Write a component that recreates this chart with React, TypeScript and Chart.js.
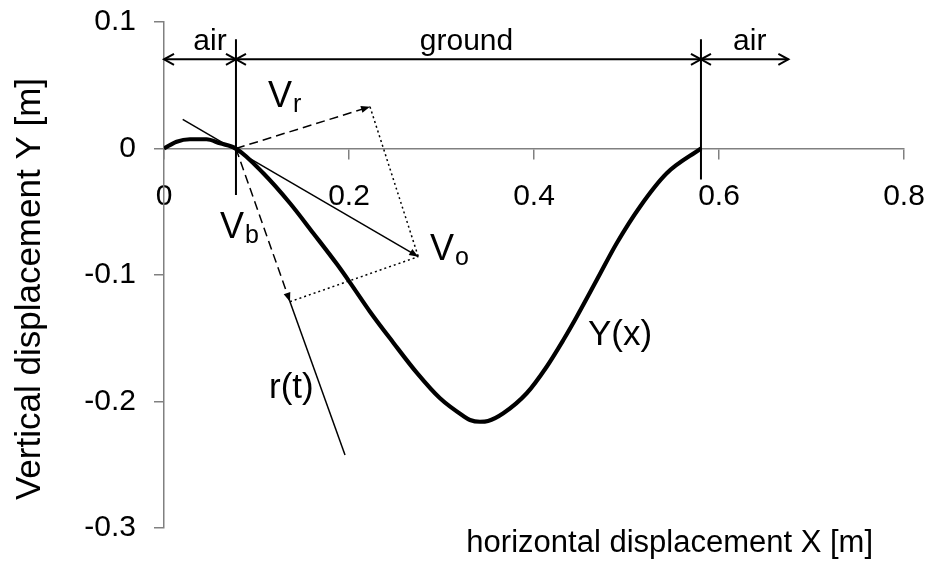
import React, { useEffect, useRef } from "react";
import { Chart, registerables } from "chart.js";

Chart.register(...registerables);

const FONT = '"Liberation Sans", Arial, Helvetica, sans-serif';

// Trajectory Y(x) of the foot: short flight, ground contact, then flight again
const pathX = [0, 0.0137, 0.028, 0.046, 0.0605, 0.0778, 0.1074, 0.1362, 0.1614, 0.1867, 0.2011, 0.2227, 0.2479, 0.2732, 0.2984, 0.3236, 0.3308, 0.3416, 0.3503, 0.3668, 0.3921, 0.4137, 0.4317, 0.4462, 0.4678, 0.4894, 0.5146, 0.5435, 0.5805];
const pathY = [0, 0.0054, 0.0073, 0.0073, 0.0041, 0, -0.0196, -0.0433, -0.067, -0.0912, -0.106, -0.129, -0.1535, -0.1772, -0.1975, -0.2115, -0.2146, -0.216, -0.2154, -0.2093, -0.1935, -0.1725, -0.1514, -0.133, -0.104, -0.0749, -0.046, -0.0196, 0];

const xTicks = [0, 0.2, 0.4, 0.6, 0.8];
const yTicks = [0.1, 0, -0.1, -0.2, -0.3];

// Phase boundaries (touchdown / lift-off) and the dimension lines above them
const boundaryX = [0.0778, 0.5805];
const boundaryTop = [0.0863, 0.0863];
const boundaryBottom = [-0.0368, -0.0245];
const phaseY = 0.0705;
const phaseStart = [0, 0.0778, 0.5805];
const phaseEnd = [0.0778, 0.5805, 0.675];
const phaseLabels = ["air", "ground", "air"];
const phaseLabelX = [0.0497, 0.327, 0.6332];
const phaseLabelY = 0.0779;

// Velocity decomposition at touchdown
const contact = { x: 0.0778, y: 0 };
const tangentStart = { x: 0.0202, y: 0.0231 };
const vOTip = { x: 0.2749, y: -0.0855 };
const vRTip = { x: 0.2227, y: 0.033 };
const vBTip = { x: 0.1362, y: -0.1211 };
const rayEnd = { x: 0.1957, y: -0.2423 };

// Text labels: main letter, subscript, anchor (left, baseline) in data units
const vectorLabels = [
  { main: "V", sub: "r", x: 0.1124, y: 0.0328 },
  { main: "V", sub: "b", x: 0.0605, y: -0.0708 },
  { main: "V", sub: "o", x: 0.2876, y: -0.0881 },
];
const curveLabels = [
  { text: "Y(x)", x: 0.4584, y: -0.1553 },
  { text: "r(t)", x: 0.1135, y: -0.1972 },
];

const xTitle = "horizontal displacement X [m]";
const yTitle = "Vertical displacement Y [m]";

const AXIS_GREY = "#808080";

function segment(a: { x: number; y: number }, b: { x: number; y: number }, extra: any = {}) {
  return {
    data: [a, b],
    showLine: true,
    borderColor: "#000",
    borderWidth: 1.5,
    pointRadius: 0,
    ...extra,
  };
}

function openHead(ctx: CanvasRenderingContext2D, tx: number, ty: number, dir: number) {
  // dir: +1 pointing right, -1 pointing left
  ctx.beginPath();
  ctx.moveTo(tx - dir * 10, ty - 5.5);
  ctx.lineTo(tx, ty);
  ctx.lineTo(tx - dir * 10, ty + 5.5);
  ctx.stroke();
}

function filledHead(ctx: CanvasRenderingContext2D, fx: number, fy: number, tx: number, ty: number) {
  const a = Math.atan2(ty - fy, tx - fx);
  const len = 9;
  const hw = 3.5;
  const bx = tx - len * Math.cos(a);
  const by = ty - len * Math.sin(a);
  ctx.beginPath();
  ctx.moveTo(tx, ty);
  ctx.lineTo(bx + hw * Math.sin(a), by - hw * Math.cos(a));
  ctx.lineTo(bx - hw * Math.sin(a), by + hw * Math.cos(a));
  ctx.closePath();
  ctx.fill();
}

const annotate = {
  id: "annotate",
  afterDatasetsDraw(chart: any) {
    const { ctx, scales, chartArea } = chart;
    const px = (v: number) => scales.x.getPixelForValue(v);
    const py = (v: number) => scales.y.getPixelForValue(v);
    ctx.save();
    ctx.strokeStyle = "#000";
    ctx.fillStyle = "#000";

    // open arrowheads on the phase dimension lines
    ctx.lineWidth = 2;
    for (let i = 0; i < phaseStart.length; i++) {
      openHead(ctx, px(phaseStart[i]), py(phaseY), -1);
      openHead(ctx, px(phaseEnd[i]), py(phaseY), 1);
    }

    // filled arrowheads on the velocity vectors
    const c = { x: px(contact.x), y: py(contact.y) };
    for (const tip of [vOTip, vRTip, vBTip]) {
      filledHead(ctx, c.x, c.y, px(tip.x), py(tip.y));
    }

    // phase names
    ctx.font = `30px ${FONT}`;
    ctx.textAlign = "center";
    ctx.textBaseline = "alphabetic";
    phaseLabels.forEach((t, i) => ctx.fillText(t, px(phaseLabelX[i]), py(phaseLabelY)));

    // vector names with subscripts
    ctx.textAlign = "left";
    for (const l of vectorLabels) {
      ctx.font = `36px ${FONT}`;
      const x0 = px(l.x);
      const y0 = py(l.y);
      ctx.fillText(l.main, x0, y0);
      const w = ctx.measureText(l.main).width;
      ctx.font = `25px ${FONT}`;
      ctx.fillText(l.sub, x0 + w + 1, y0 + 5);
    }

    // curve names
    ctx.font = `35px ${FONT}`;
    for (const l of curveLabels) ctx.fillText(l.text, px(l.x), py(l.y));

    // axis titles
    ctx.font = `31px ${FONT}`;
    ctx.textAlign = "right";
    ctx.fillText(xTitle, chartArea.right - 31, chartArea.bottom + 24);

    ctx.font = `35px ${FONT}`;
    ctx.translate(chartArea.left - 124, (chartArea.top + chartArea.bottom) / 2 + 14);
    ctx.rotate(-Math.PI / 2);
    ctx.textAlign = "center";
    ctx.fillText(yTitle, 0, 0);
    ctx.restore();
  },
};

export default function App() {
  const ref = useRef<HTMLCanvasElement>(null);

  useEffect(() => {
    const canvas = ref.current;
    if (!canvas) return;

    const datasets: any[] = [
      // trajectory
      {
        data: pathX.map((x, i) => ({ x, y: pathY[i] })),
        showLine: true,
        borderColor: "#000",
        borderWidth: 4.2,
        pointRadius: 0,
        cubicInterpolationMode: "monotone",
      },
      // touchdown / lift-off markers
      ...boundaryX.map((bx, i) =>
        segment({ x: bx, y: boundaryTop[i] }, { x: bx, y: boundaryBottom[i] }, { borderWidth: 2 })
      ),
      // phase dimension lines
      ...phaseStart.map((s, i) =>
        segment({ x: s, y: phaseY }, { x: phaseEnd[i], y: phaseY }, { borderWidth: 2 })
      ),
      // tangent through contact point up to V_o
      segment(tangentStart, vOTip),
      // components
      segment(contact, vRTip, { borderDash: [9, 5] }),
      segment(contact, vBTip, { borderDash: [9, 5] }),
      segment(vRTip, vOTip, { borderDash: [2, 3] }),
      segment(vBTip, vOTip, { borderDash: [2, 3] }),
      // r(t) direction
      segment(vBTip, rayEnd),
    ];

    const chart = new Chart(canvas, {
      type: "scatter",
      data: { datasets },
      plugins: [annotate],
      options: {
        animation: false,
        responsive: false,
        layout: { padding: { top: 22, right: 29, bottom: 33, left: 0 } },
        plugins: { legend: { display: false }, tooltip: { enabled: false } },
        scales: {
          x: {
            type: "linear",
            position: { y: 0 } as any,
            min: 0,
            max: 0.8,
            afterBuildTicks: (s: any) => {
              s.ticks = xTicks.map((v) => ({ value: v }));
            },
            afterFit: (s: any) => {
              s.paddingLeft = 0;
              s.paddingRight = 0;
            },
            ticks: {
              color: "#000",
              font: { family: FONT, size: 30 },
              padding: 20,
              maxRotation: 0,
              callback: (v: any) => String(Number(v)),
            },
            grid: { drawOnChartArea: false, drawTicks: true, tickLength: 10, color: AXIS_GREY, lineWidth: 1.5 },
            border: { color: AXIS_GREY, width: 1.5 },
          },
          y: {
            type: "linear",
            min: -0.3,
            max: 0.1,
            afterBuildTicks: (s: any) => {
              s.ticks = yTicks.map((v) => ({ value: v }));
            },
            afterFit: (s: any) => {
              s.width = 164;
              s.paddingTop = 0;
              s.paddingBottom = 0;
            },
            ticks: {
              color: "#000",
              font: { family: FONT, size: 30 },
              padding: 18,
              callback: (v: any) => String(Math.round(Number(v) * 10) / 10),
            },
            grid: { drawOnChartArea: false, drawTicks: true, tickLength: 10, color: AXIS_GREY, lineWidth: 1.5 },
            border: { color: AXIS_GREY, width: 1.5 },
          },
        },
      },
    });

    return () => chart.destroy();
  }, []);

  return (
    <div style={{ position: "fixed", left: 0, top: 0, width: 933, height: 561, background: "#fff" }}>
      <canvas ref={ref} width={933} height={561} style={{ display: "block", width: 933, height: 561 }} />
    </div>
  );
}
